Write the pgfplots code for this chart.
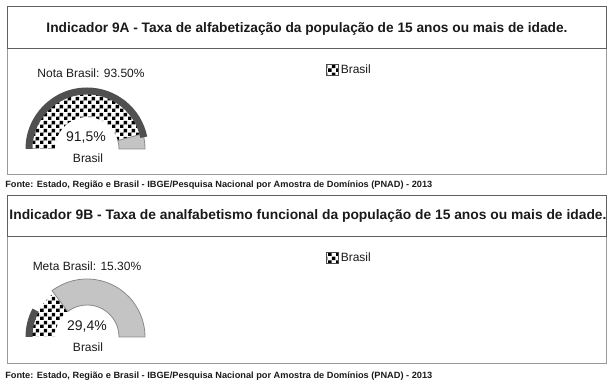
\documentclass[border=0pt]{standalone}
\usepackage{fontspec}
\setmainfont{Liberation Sans}
\usepackage{pgfplots}
\pgfplotsset{compat=1.18}
\usepackage{pgfplotstable}
\usepackage{graphicx}
\usetikzlibrary{patterns}

\definecolor{band}{HTML}{505050}
\definecolor{rest}{HTML}{C4C4C4}
\definecolor{restline}{HTML}{8A8A8A}
\definecolor{boxline}{HTML}{9A9A9A}
\definecolor{titleline}{HTML}{606060}
\definecolor{txt}{HTML}{1A1A1A}

\pgfdeclarepatternformonly{chk}{\pgfpointorigin}{\pgfqpoint{6pt}{6pt}}{\pgfqpoint{6pt}{6pt}}{%
  \pgfpathrectangle{\pgfqpoint{0.1pt}{0.1pt}}{\pgfqpoint{2.8pt}{2.8pt}}%
  \pgfpathrectangle{\pgfqpoint{3.1pt}{3.1pt}}{\pgfqpoint{2.8pt}{2.8pt}}%
  \pgfusepath{fill}}

\newsavebox\fitbox
\newcommand\fitw[2]{\sbox\fitbox{#2}\dimen0=\wd\fitbox\pgfmathsetmacro\fitsx{#1/\the\dimen0}\scalebox{\fitsx}[1]{\usebox\fitbox}}

% indicator values (%)
\pgfplotstableread{
indicador valor meta
9A 91.5 93.5
9B 29.4 15.3
}\gaugedata
\pgfplotstablegetelem{0}{valor}\of\gaugedata \let\valA\pgfplotsretval
\pgfplotstablegetelem{0}{meta}\of\gaugedata \let\metaA\pgfplotsretval
\pgfplotstablegetelem{1}{valor}\of\gaugedata \let\valB\pgfplotsretval
\pgfplotstablegetelem{1}{meta}\of\gaugedata \let\metaB\pgfplotsretval

\pgfplotsset{gauge/.style={
  scale only axis, width=91.5pt, height=45.75pt,
  xmin=-61, xmax=61, ymin=0, ymax=61,
  hide axis, clip=false, anchor=south west,
  legend style={at={(2.459,1.295)}, anchor=west, draw=none, fill=none,
    inner sep=0pt, font=\fontsize{9}{10}\selectfont\color{txt}},
  legend cell align=left,
}}

\begin{document}
\begin{tikzpicture}[x=0.75pt,y=0.75pt]
\useasboundingbox (0,0) rectangle (615,384);

\pgfmathsetmacro\aA{180-1.8*\valA}
\pgfmathsetmacro\mA{180-1.8*\metaA}
\pgfmathsetmacro\aB{180-1.8*\valB}
\pgfmathsetmacro\mB{180-1.8*\metaB}

% ---------- Panel A frames ----------
\draw[boxline, line width=0.75pt] (7,209) rectangle (606,335);
\draw[titleline, line width=0.75pt] (7,335) rectangle (606,377);
\node[txt] at (307,355) {\fitw{390.75pt}{\fontsize{10.3}{12}\selectfont\bfseries Indicador 9A - Taxa de alfabetização da população de 15 anos ou mais de idade.}};
\node[txt, anchor=west, inner sep=0pt] at (5,199) {\fitw{320.25pt}{\fontsize{6.8}{8}\selectfont\bfseries Fonte: Estado, Região e Brasil - IBGE/Pesquisa Nacional por Amostra de Domínios (PNAD) - 2013}};

\begin{axis}[gauge, at={(19.5pt,176.25pt)}]
  \addlegendimage{legend image code/.code={\path[fill=white, draw=black!70, line width=0.4pt, postaction={pattern=chk}] (0pt,-3.6pt) rectangle (8.5pt,4pt);}}
  \addlegendentry{Brasil}
  \path[fill=white, postaction={pattern=chk, pattern color=black}]
    (axis cs:-55,0) arc[start angle=180, end angle=\aA, radius=55]
    -- (axis cs:{32*cos(\aA)},{32*sin(\aA)}) arc[start angle=\aA, end angle=180, radius=32] -- cycle;
  \path[fill=rest, draw=restline, line width=0.6pt]
    (axis cs:{58*cos(\aA)},{58*sin(\aA)}) arc[start angle=\aA, end angle=0, radius=58]
    -- (axis cs:32,0) arc[start angle=0, end angle=\aA, radius=32] -- cycle;
  \path[fill=band]
    (axis cs:-61.5,0) arc[start angle=180, end angle=\mA, radius=61.5]
    -- (axis cs:{54.5*cos(\mA)},{54.5*sin(\mA)}) arc[start angle=\mA, end angle=180, radius=54.5] -- cycle;
\end{axis}

\node[txt, font=\fontsize{9}{10}\selectfont] at (91,311) {Nota Brasil: 93.50\%};
\node[txt, font=\fontsize{10.5}{12}\selectfont] at (86,246) {91,5\%};
\node[txt, font=\fontsize{9}{10}\selectfont] at (88,226) {Brasil};

% ---------- Panel B frames ----------
\draw[boxline, line width=0.75pt] (7,20) rectangle (606,147);
\draw[titleline, line width=0.75pt] (7,147) rectangle (606,188);
\node[txt] at (308,168) {\fitw{447.75pt}{\fontsize{10.3}{12}\selectfont\bfseries Indicador 9B - Taxa de analfabetismo funcional da população de 15 anos ou mais de idade.}};
\node[txt, anchor=west, inner sep=0pt] at (5,8) {\fitw{320.25pt}{\fontsize{6.8}{8}\selectfont\bfseries Fonte: Estado, Região e Brasil - IBGE/Pesquisa Nacional por Amostra de Domínios (PNAD) - 2013}};

\begin{axis}[gauge, at={(19.5pt,35.25pt)}]
  \addlegendimage{legend image code/.code={\path[fill=white, draw=black!70, line width=0.4pt, postaction={pattern=chk}] (0pt,-3.6pt) rectangle (8.5pt,4pt);}}
  \addlegendentry{Brasil}
  \path[fill=white, postaction={pattern=chk, pattern color=black}]
    (axis cs:-55,0) arc[start angle=180, end angle=\aB, radius=55]
    -- (axis cs:{32*cos(\aB)},{32*sin(\aB)}) arc[start angle=\aB, end angle=180, radius=32] -- cycle;
  \path[fill=rest, draw=restline, line width=0.6pt]
    (axis cs:{58*cos(\aB)},{58*sin(\aB)}) arc[start angle=\aB, end angle=0, radius=58]
    -- (axis cs:32,0) arc[start angle=0, end angle=\aB, radius=32] -- cycle;
  \path[fill=band]
    (axis cs:-61.5,0) arc[start angle=180, end angle=\mB, radius=61.5]
    -- (axis cs:{54.5*cos(\mB)},{54.5*sin(\mB)}) arc[start angle=\mB, end angle=180, radius=54.5] -- cycle;
\end{axis}

\node[txt, font=\fontsize{9}{10}\selectfont] at (87,118) {Meta Brasil: 15.30\%};
\node[txt, font=\fontsize{10.5}{12}\selectfont] at (87,57) {29,4\%};
\node[txt, font=\fontsize{9}{10}\selectfont] at (88,37) {Brasil};
\end{tikzpicture}
\end{document}
